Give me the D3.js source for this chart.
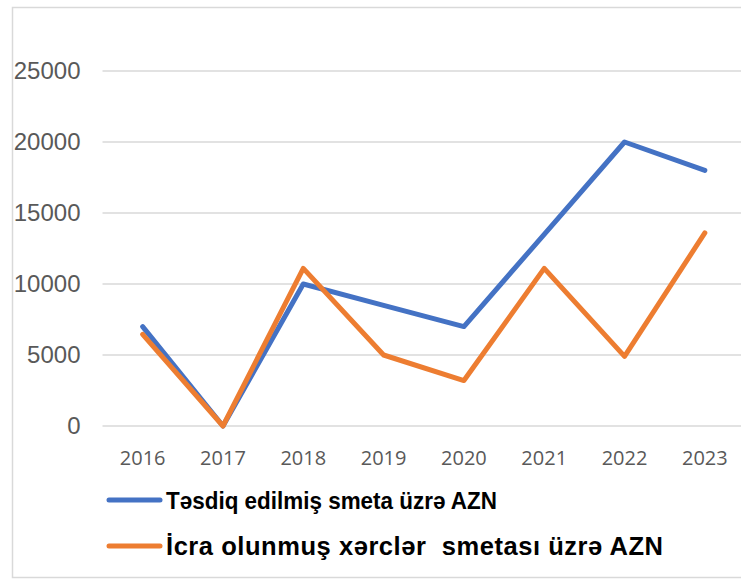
<!DOCTYPE html>
<html><head><meta charset="utf-8">
<script src="https://cdn.jsdelivr.net/npm/d3@7"></script>
<style>body{margin:0;background:#fff}svg{display:block}</style>
</head><body>
<script>
const years = ["2016","2017","2018","2019","2020","2021","2022","2023"];
const approved = [7000, 0, 10000, 8500, 7000, 13500, 20000, 18000];
const executed = [6450, 0, 11100, 5000, 3200, 11100, 4900, 13600];
const yTicks = [0, 5000, 10000, 15000, 20000, 25000];
const seriesNames = ["Təsdiq edilmiş smeta üzrə AZN", "İcra olunmuş xərclər  smetası üzrə AZN"];
const colors = ["#4472C4", "#ED7D31"];

(function () {
const W = 741, H = 580;
const svg = d3.select("body").append("svg").attr("width", W).attr("height", H);

// chart border
svg.append("rect").attr("x", 12.5).attr("y", 7.5).attr("width", 760).attr("height", 570)
  .attr("fill", "none").attr("stroke", "#d9d9d9").attr("stroke-width", 1.5);

const pLeft = 102.5, pRight = 745, pBottom = 426;
const x = d3.scaleBand().domain(years).range([pLeft, pRight]);
const y = d3.scaleLinear().domain([0, 30000]).range([pBottom, pBottom - 6 * 71]);

// y labels
const yAxis = d3.axisLeft(y).tickValues(yTicks).tickFormat(d3.format("d")).tickSize(0).tickPadding(22);
const ga = svg.append("g").attr("transform", `translate(${pLeft},0)`).call(yAxis);
ga.select(".domain").remove();
ga.selectAll("text").attr("font-family", "'Liberation Sans', Arial, sans-serif")
  .attr("font-size", 24).attr("fill", "#595959");

// gridlines
svg.append("g").selectAll("line").data(yTicks.filter(d => d > 0)).join("line")
  .attr("x1", pLeft).attr("x2", W).attr("y1", d => y(d)).attr("y2", d => y(d))
  .attr("stroke", "#d9d9d9").attr("stroke-width", 1.5);

// x axis
const xa = svg.append("g").attr("transform", `translate(0,${pBottom})`)
  .call(d3.axisBottom(x).tickSize(0).tickPadding(0));
xa.select(".domain").remove();
svg.append("line").attr("x1", pLeft).attr("x2", W).attr("y1", pBottom).attr("y2", pBottom)
  .attr("stroke", "#d9d9d9").attr("stroke-width", 1.5);
xa.selectAll("text").attr("font-family", "'Open Sans', sans-serif")
  .attr("font-size", 20).attr("fill", "#595959").attr("y", 39).attr("dy", null);

const line = d3.line().x((d, i) => x(years[i]) + x.bandwidth() / 2).y(d => y(d));
[approved, executed].forEach((s, i) => {
  svg.append("path").attr("d", line(s)).attr("fill", "none")
    .attr("stroke", colors[i]).attr("stroke-width", 5)
    .attr("stroke-linejoin", "round").attr("stroke-linecap", "round");
});

// legend
const leg = svg.append("g");
const legSizes = [24.5, 25.5];
const legWidths = [331, 497];
const legAdjust = ["spacingAndGlyphs", "spacing"];
[500, 546].forEach((ly, i) => {
  leg.append("line").attr("x1", 109).attr("x2", 160).attr("y1", ly).attr("y2", ly)
    .attr("stroke", colors[i]).attr("stroke-width", 5).attr("stroke-linecap", "round");
  leg.append("text").attr("x", 166).attr("y", ly + 8.8)
    .attr("font-family", "'Liberation Sans', Arial, sans-serif").attr("font-weight", "bold")
    .attr("font-size", legSizes[i]).attr("fill", "#000")
    .attr("textLength", legWidths[i]).attr("lengthAdjust", legAdjust[i])
    .style("white-space", "pre").text(seriesNames[i]);
});
})();
</script>
</body></html>
